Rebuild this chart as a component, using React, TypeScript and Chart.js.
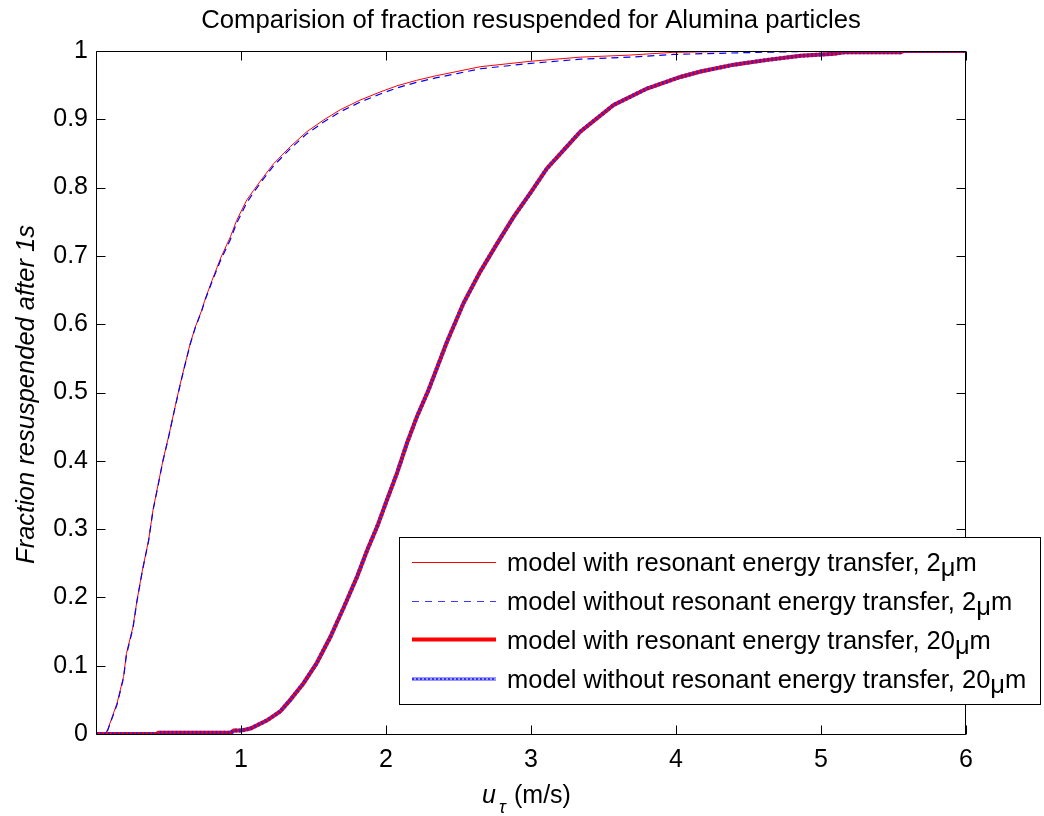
import React, { useEffect, useRef } from 'react';
import { Chart, registerables } from 'chart.js';

Chart.register(...registerables);

// ---- data ----
const u2With = [0, 0.06, 0.08, 0.145, 0.19, 0.21, 0.255, 0.283, 0.32, 0.363, 0.393, 0.43, 0.462, 0.50, 0.54, 0.577, 0.61, 0.65, 0.685, 0.73, 0.75, 0.80, 0.86, 0.927, 0.97, 1.04, 1.087, 1.156, 1.225, 1.34, 1.455, 1.57, 1.685, 1.82, 1.96, 2.075, 2.21, 2.35, 2.49, 2.65, 3.0, 3.34, 3.68, 3.98, 4.56, 6.0];
const f2With = [0, 0, 0.006, 0.045, 0.084, 0.118, 0.157, 0.196, 0.24, 0.284, 0.328, 0.367, 0.401, 0.435, 0.474, 0.509, 0.538, 0.572, 0.596, 0.621, 0.635, 0.664, 0.697, 0.728, 0.752, 0.782, 0.796, 0.816, 0.835, 0.86, 0.882, 0.899, 0.914, 0.928, 0.94, 0.949, 0.957, 0.964, 0.970, 0.977, 0.985, 0.991, 0.994, 0.998, 1.0, 1.0];

const u2Without = [0, 0.06, 0.08, 0.145, 0.19, 0.21, 0.255, 0.283, 0.32, 0.363, 0.393, 0.43, 0.462, 0.50, 0.54, 0.577, 0.61, 0.65, 0.685, 0.73, 0.75, 0.80, 0.86, 0.927, 0.97, 1.04, 1.087, 1.156, 1.225, 1.34, 1.455, 1.57, 1.685, 1.82, 1.96, 2.075, 2.21, 2.35, 2.49, 2.65, 3.0, 3.34, 3.68, 3.98, 4.56, 5.05, 6.0];
const f2Without = [0, 0, 0.005, 0.043, 0.082, 0.116, 0.155, 0.195, 0.239, 0.283, 0.327, 0.366, 0.400, 0.434, 0.473, 0.508, 0.537, 0.571, 0.595, 0.620, 0.634, 0.662, 0.694, 0.724, 0.748, 0.778, 0.793, 0.813, 0.832, 0.857, 0.879, 0.896, 0.911, 0.925, 0.937, 0.946, 0.954, 0.961, 0.967, 0.974, 0.982, 0.988, 0.991, 0.995, 0.998, 1.0, 1.0];

const u20With = [0, 0.42, 0.43, 0.93, 0.95, 1.0, 1.065, 1.18, 1.27, 1.34, 1.43, 1.52, 1.616, 1.71, 1.80, 1.87, 1.94, 2.007, 2.076, 2.145, 2.214, 2.294, 2.42, 2.535, 2.65, 2.766, 2.88, 2.995, 3.11, 3.225, 3.34, 3.57, 3.80, 4.03, 4.17, 4.40, 4.63, 4.86, 5.09, 5.16, 5.55, 5.57, 6.0];
const f20With = [0, 0, 0.002, 0.002, 0.005, 0.005, 0.008, 0.020, 0.033, 0.050, 0.074, 0.103, 0.142, 0.186, 0.230, 0.269, 0.304, 0.343, 0.382, 0.426, 0.465, 0.504, 0.574, 0.631, 0.677, 0.718, 0.757, 0.792, 0.828, 0.855, 0.882, 0.921, 0.945, 0.962, 0.970, 0.980, 0.987, 0.993, 0.996, 0.998, 0.998, 1.0, 1.0];

const u20Without = [0, 0.42, 0.43, 0.93, 0.95, 1.0, 1.065, 1.18, 1.27, 1.34, 1.43, 1.52, 1.616, 1.71, 1.80, 1.87, 1.94, 2.007, 2.076, 2.145, 2.214, 2.294, 2.42, 2.535, 2.65, 2.766, 2.88, 2.995, 3.11, 3.225, 3.34, 3.57, 3.80, 4.03, 4.17, 4.40, 4.63, 4.86, 5.09, 5.16, 5.55, 5.57, 6.0];
const f20Without = [0, 0, 0.002, 0.002, 0.005, 0.005, 0.008, 0.020, 0.033, 0.050, 0.074, 0.103, 0.142, 0.186, 0.230, 0.269, 0.304, 0.343, 0.382, 0.426, 0.465, 0.504, 0.574, 0.631, 0.677, 0.718, 0.757, 0.792, 0.828, 0.855, 0.882, 0.921, 0.945, 0.962, 0.970, 0.980, 0.987, 0.993, 0.996, 0.998, 0.998, 1.0, 1.0];

const xTickValues = [1, 2, 3, 4, 5, 6];
const xTickLabels = ['1', '2', '3', '4', '5', '6'];
const yTickValues = [0, 0.1, 0.2, 0.3, 0.4, 0.5, 0.6, 0.7, 0.8, 0.9, 1];
const yTickLabels = ['0', '0.1', '0.2', '0.3', '0.4', '0.5', '0.6', '0.7', '0.8', '0.9', '1'];

const titleText = 'Comparision of fraction resuspended for Alumina particles';
const yAxisTitle = 'Fraction resuspended after 1s';
const xAxisVar = 'u';
const xAxisSub = 'τ';
const xAxisUnit = '(m/s)';
const seriesLabels = [
  'model with resonant energy transfer, 2μm',
  'model without resonant energy transfer, 2μm',
  'model with resonant energy transfer, 20μm',
  'model without resonant energy transfer, 20μm',
];

const FONT = '"Liberation Sans", Arial, Helvetica, sans-serif';

const toPoints = (xs: number[], ys: number[]) => xs.map((x, i) => ({ x, y: ys[i] }));

const decorPlugin = {
  id: 'decor',
  afterDraw(chart: any) {
    const { ctx, chartArea: a, scales } = chart;
    const xs = scales.x;
    const ys = scales.y;
    ctx.save();
    // frame
    const L = Math.floor(a.left) + 0.5;
    const R = Math.round(a.right) - 0.5;
    const T = Math.round(a.top) + 0.5;
    const B = Math.round(a.bottom) + 0.5;
    ctx.strokeStyle = '#000';
    ctx.lineWidth = 1;
    ctx.beginPath();
    ctx.rect(L, T, R - L, B - T);
    ctx.stroke();
    // inward ticks on all four sides
    const tl = 9;
    ctx.beginPath();
    xTickValues.forEach((v) => {
      const px = Math.round(xs.getPixelForValue(v)) + 0.5;
      ctx.moveTo(px, B);
      ctx.lineTo(px, B - tl);
      ctx.moveTo(px, T);
      ctx.lineTo(px, T + tl);
    });
    yTickValues.forEach((v) => {
      const py = Math.round(ys.getPixelForValue(v)) + 0.5;
      ctx.moveTo(L, py);
      ctx.lineTo(L + tl, py);
      ctx.moveTo(R, py);
      ctx.lineTo(R - tl, py);
    });
    ctx.stroke();

    ctx.fillStyle = '#000';
    // title
    ctx.font = `25.7px ${FONT}`;
    ctx.textAlign = 'center';
    ctx.textBaseline = 'alphabetic';
    ctx.fillText(titleText, (a.left + a.right) / 2, 28);

    // y axis title
    ctx.save();
    ctx.translate(34, (a.top + a.bottom) / 2 + 2);
    ctx.rotate(-Math.PI / 2);
    ctx.font = `italic 25.5px ${FONT}`;
    ctx.textAlign = 'center';
    ctx.fillText(yAxisTitle, 0, 0);
    ctx.restore();

    // x axis title: u_tau (m/s)
    ctx.textAlign = 'left';
    ctx.font = `italic 25px ${FONT}`;
    ctx.fillText(xAxisVar, 482, 803);
    ctx.font = `italic 18px ${FONT}`;
    ctx.fillText(xAxisSub, 499, 813);
    ctx.font = `25px ${FONT}`;
    ctx.fillText(xAxisUnit, 514, 803);

    // legend
    const bx = 399.5, by = 537.5, bw = 641, bh = 167;
    ctx.fillStyle = '#fff';
    ctx.fillRect(bx, by, bw, bh);
    ctx.strokeStyle = '#000';
    ctx.lineWidth = 1;
    ctx.strokeRect(bx, by, bw, bh);
    const rowsY = [562, 601, 639.5, 679];
    const x0 = 412, x1 = 496;
    // row 1: thin red
    ctx.strokeStyle = '#ff0000';
    ctx.lineWidth = 1;
    ctx.setLineDash([]);
    ctx.beginPath(); ctx.moveTo(x0, rowsY[0] + 0.5); ctx.lineTo(x1, rowsY[0] + 0.5); ctx.stroke();
    // row 2: thin blue dashed
    ctx.strokeStyle = '#3a3aff';
    ctx.setLineDash([7, 6]);
    ctx.beginPath(); ctx.moveTo(x0, rowsY[1] + 0.5); ctx.lineTo(x1, rowsY[1] + 0.5); ctx.stroke();
    // row 3: thick red
    ctx.setLineDash([]);
    ctx.strokeStyle = '#ff0000';
    ctx.lineWidth = 4;
    ctx.beginPath(); ctx.moveTo(x0, rowsY[2]); ctx.lineTo(x1, rowsY[2]); ctx.stroke();
    // row 4: thick blue dotted
    ctx.strokeStyle = '#9a9aff';
    ctx.lineWidth = 4;
    ctx.beginPath(); ctx.moveTo(x0, rowsY[3]); ctx.lineTo(x1, rowsY[3]); ctx.stroke();
    ctx.strokeStyle = '#3030ff';
    ctx.lineWidth = 2;
    ctx.setLineDash([2, 2]);
    ctx.beginPath(); ctx.moveTo(x0, rowsY[3]); ctx.lineTo(x1, rowsY[3]); ctx.stroke();
    ctx.setLineDash([]);

    ctx.fillStyle = '#000';
    ctx.font = `25.5px ${FONT}`;
    ctx.textAlign = 'left';
    ctx.textBaseline = 'alphabetic';
    seriesLabels.forEach((lab, i) => {
      const base = rowsY[i] + 9;
      const parts = lab.split('μ');
      let x = 507;
      ctx.fillText(parts[0], x, base);
      x += ctx.measureText(parts[0]).width;
      ctx.fillText('μ', x, base + 5);
      x += ctx.measureText('μ').width;
      ctx.fillText(parts[1], x, base);
    });
    ctx.restore();
  },
};

export default function App() {
  const ref = useRef<HTMLCanvasElement>(null);
  useEffect(() => {
    if (!ref.current) return;
    const chart = new Chart(ref.current, {
      type: 'line',
      data: {
        datasets: [
          {
            label: seriesLabels[0],
            data: toPoints(u2With, f2With),
            borderColor: '#ff0000',
            borderWidth: 1,
            pointRadius: 0,
            tension: 0,
            order: 4,
          },
          {
            label: seriesLabels[1],
            data: toPoints(u2Without, f2Without),
            borderColor: '#0000ff',
            borderWidth: 1.2,
            borderDash: [7, 5],
            pointRadius: 0,
            tension: 0,
            order: 3,
          },
          {
            label: seriesLabels[2],
            data: toPoints(u20With, f20With),
            borderColor: '#ff0000',
            borderWidth: 4,
            pointRadius: 0,
            tension: 0,
            order: 2,
          },
          {
            label: seriesLabels[3],
            data: toPoints(u20Without, f20Without),
            borderColor: 'rgba(30,30,255,0.85)',
            borderWidth: 4,
            borderDash: [2, 2],
            pointRadius: 0,
            tension: 0,
            order: 1,
          },
        ],
      },
      options: {
        animation: false,
        responsive: false,
        maintainAspectRatio: false,
        layout: { padding: { left: 0, right: 78, top: 51, bottom: 0 } },
        plugins: {
          legend: { display: false },
          title: { display: false },
          tooltip: { enabled: false },
        },
        scales: {
          x: {
            type: 'linear',
            min: 0,
            max: 6,
            afterBuildTicks: (s: any) => {
              s.ticks = xTickValues.map((v) => ({ value: v }));
            },
            afterFit: (s: any) => {
              s.height = 82;
            },
            grid: { display: false, drawTicks: false },
            border: { display: false },
            ticks: {
              autoSkip: false,
              maxRotation: 0,
              padding: 11,
              color: '#000',
              font: { family: FONT, size: 25 },
              callback: (v: any) => xTickLabels[xTickValues.indexOf(Number(v))] ?? '',
            },
          },
          y: {
            type: 'linear',
            min: 0,
            max: 1,
            afterBuildTicks: (s: any) => {
              s.ticks = yTickValues.map((v) => ({ value: v }));
            },
            afterFit: (s: any) => {
              s.width = 96;
            },
            grid: { display: false, drawTicks: false },
            border: { display: false },
            ticks: {
              autoSkip: false,
              padding: 8,
              color: '#000',
              font: { family: FONT, size: 25 },
              callback: (v: any) => {
                const idx = yTickValues.findIndex((t) => Math.abs(t - Number(v)) < 1e-9);
                return idx >= 0 ? yTickLabels[idx] : '';
              },
            },
          },
        },
      },
      plugins: [decorPlugin],
    } as any);
    return () => chart.destroy();
  }, []);

  return (
    <div style={{ position: 'fixed', left: 0, top: 0, width: 1044, height: 816, background: '#fff' }}>
      <canvas ref={ref} width={1044} height={816} style={{ display: 'block', width: 1044, height: 816 }} />
    </div>
  );
}
